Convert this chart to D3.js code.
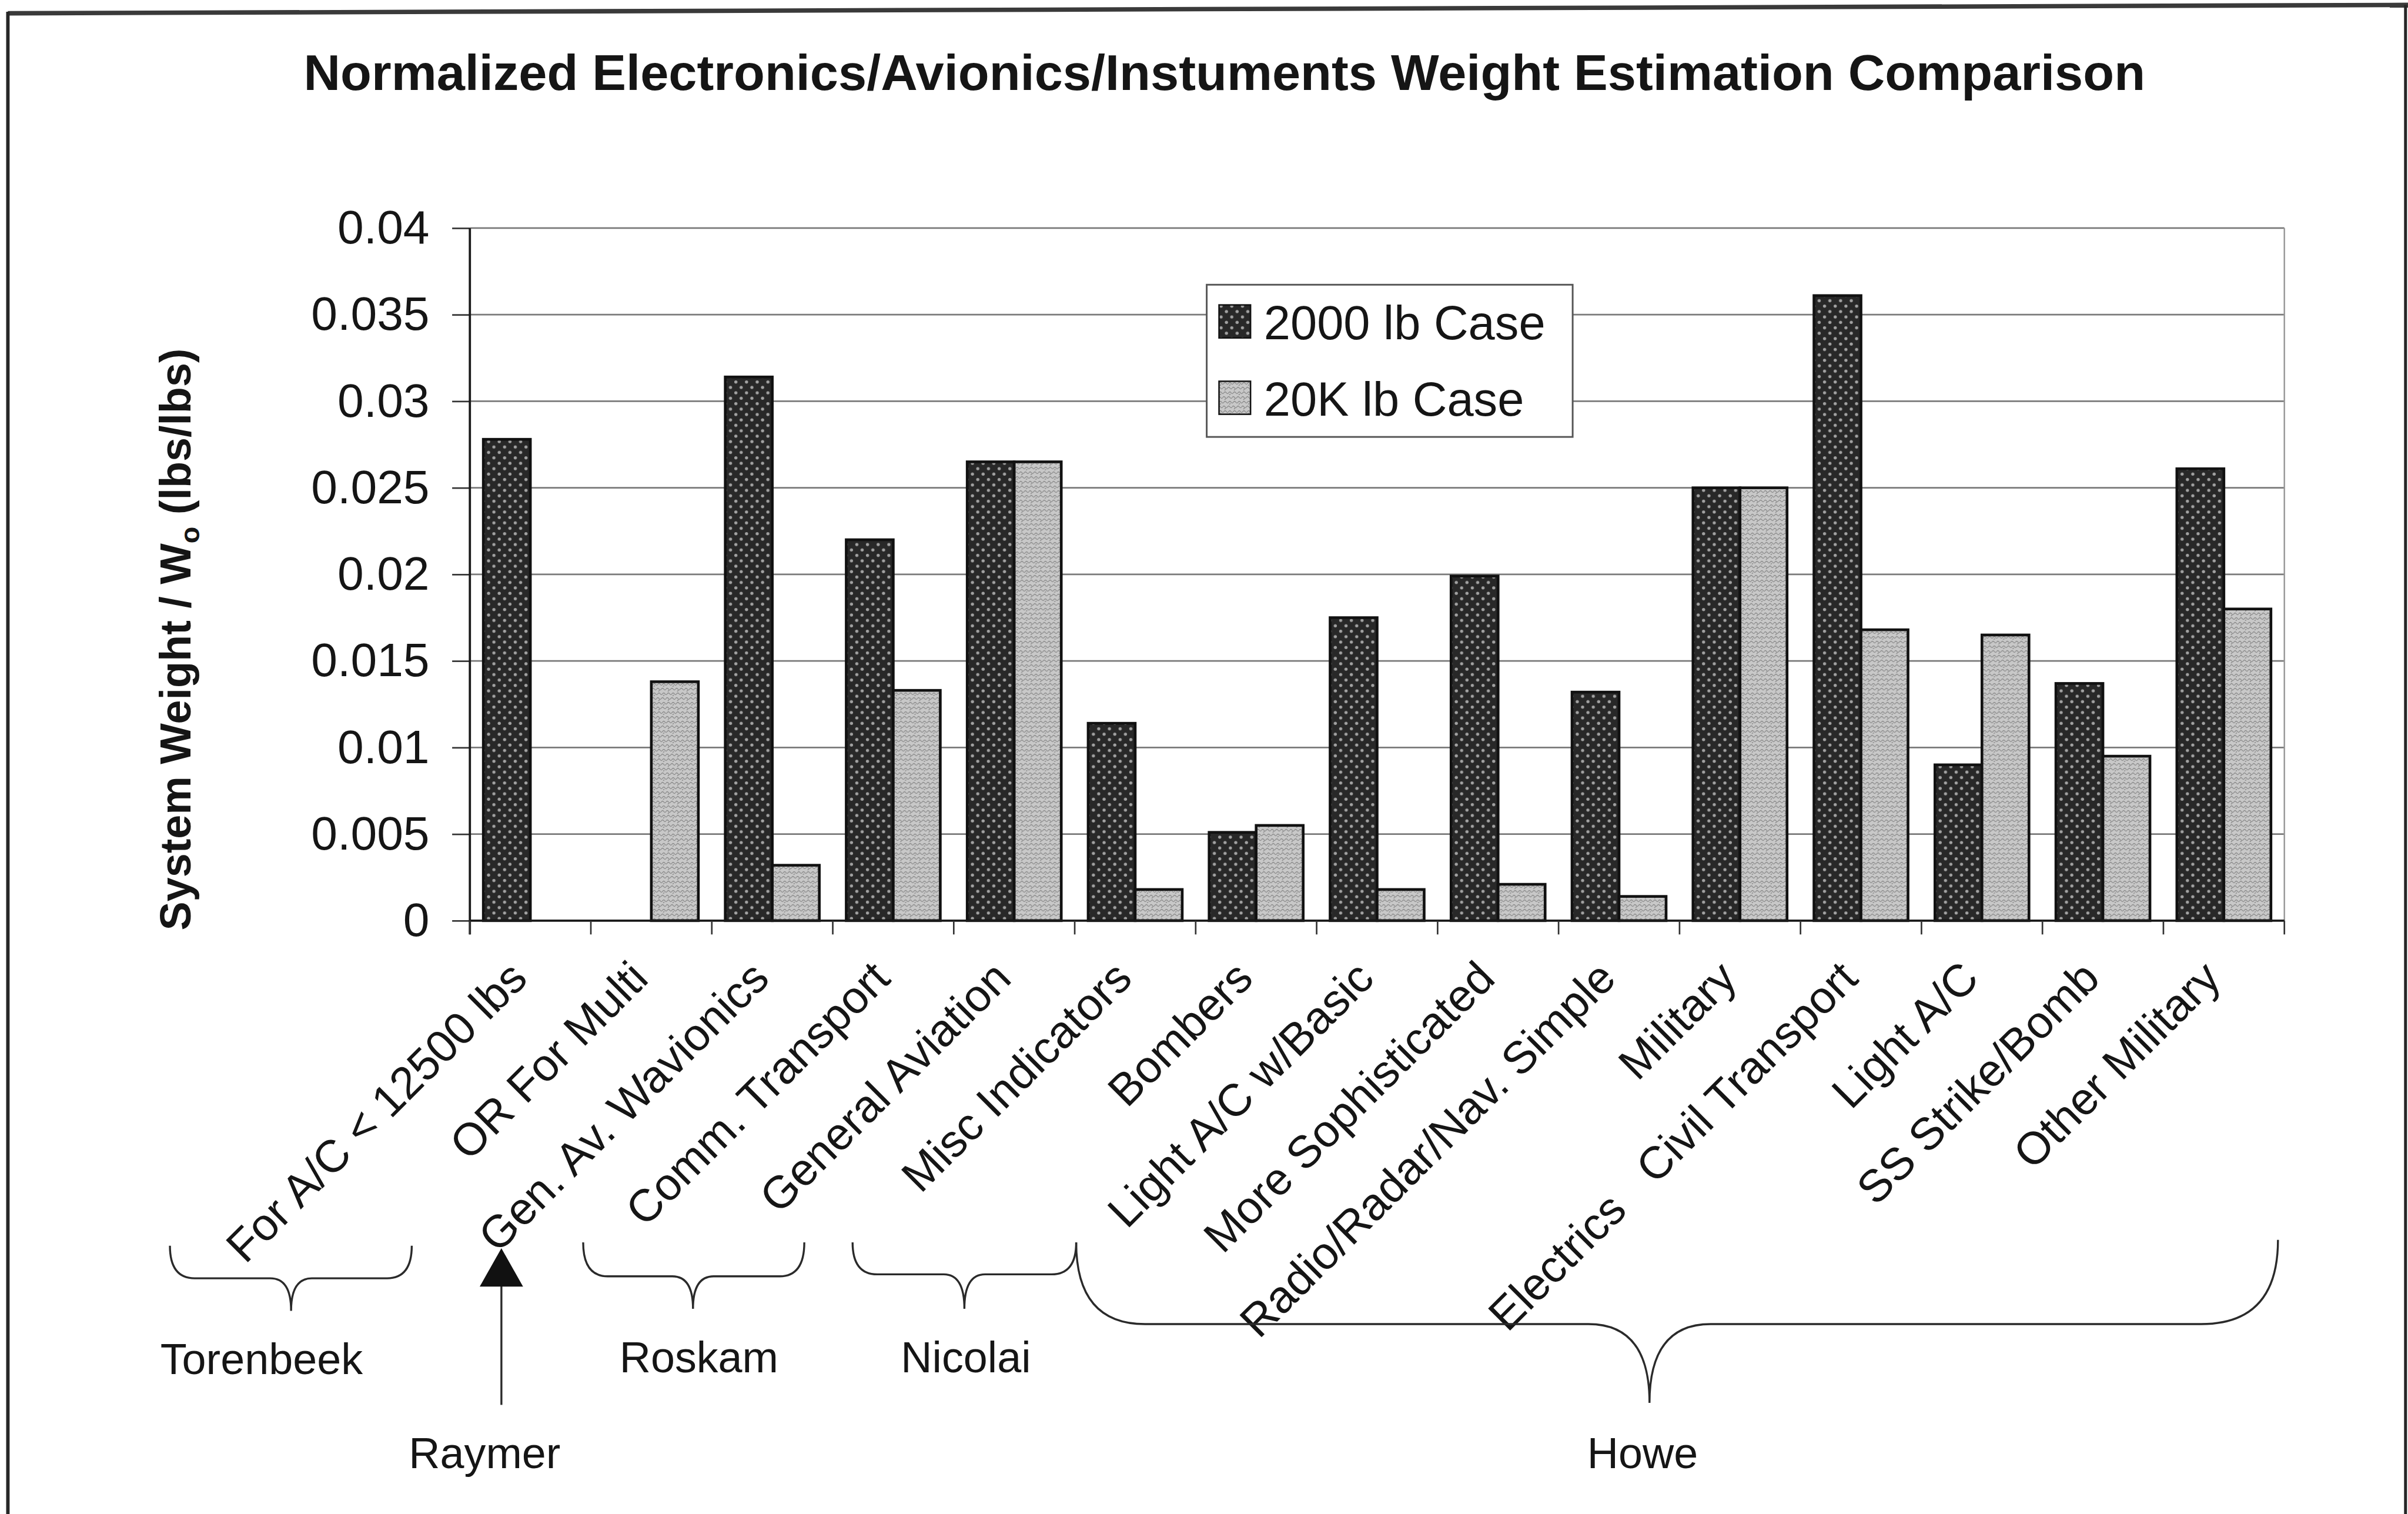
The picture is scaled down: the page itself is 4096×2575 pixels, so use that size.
<!DOCTYPE html>
<html>
<head>
<meta charset="utf-8">
<script src="https://cdn.jsdelivr.net/npm/d3@7"></script>
<style>
  html, body { margin: 0; padding: 0; background: #fff; }
  svg { display: block; }
  text { font-family: "Liberation Sans", Arial, Helvetica, sans-serif; fill: #151515; }
</style>
</head>
<body>
<script>
// ---- data ----
const categories = [
  "For A/C < 12500 lbs",
  "OR For Multi",
  "Gen. Av. Wavionics",
  "Comm. Transport",
  "General Aviation",
  "Misc Indicators",
  "Bombers",
  "Light A/C w/Basic",
  "More Sophisticated",
  "Radio/Radar/Nav. Simple",
  "Military",
  "Electrics   Civil Transport",
  "Light A/C",
  "SS Strike/Bomb",
  "Other Military"
];
const seriesNames = ["2000 lb Case", "20K lb Case"];
const case2000 = [0.0278, 0, 0.0314, 0.0220, 0.0265, 0.0114, 0.0051, 0.0175, 0.0199, 0.0132, 0.0250, 0.0361, 0.0090, 0.0137, 0.0261];
const case20k  = [0, 0.0138, 0.0032, 0.0133, 0.0265, 0.0018, 0.0055, 0.0018, 0.0021, 0.0014, 0.0250, 0.0168, 0.0165, 0.0095, 0.0180];
const yTicks = [0, 0.005, 0.01, 0.015, 0.02, 0.025, 0.03, 0.035, 0.04];
const yTickLabels = ["0", "0.005", "0.01", "0.015", "0.02", "0.025", "0.03", "0.035", "0.04"];
const sourceNames = ["Torenbeek", "Raymer", "Roskam", "Nicolai", "Howe"];

// ---- layout (drawn on a 4889 x 3073 design grid, scaled to the window) ----
const W = 4096, H = 2575;
const S = W / 4889;
const R = v => v * S;

const svg = d3.select("body").append("svg")
  .attr("width", W).attr("height", H)
  .attr("viewBox", `0 0 ${W} ${H}`);

// fill patterns
const defs = svg.append("defs");
const pDots = defs.append("pattern")
  .attr("id", "dots").attr("patternUnits", "userSpaceOnUse")
  .attr("width", R(21.7)).attr("height", R(22));
pDots.append("rect").attr("width", R(21.7)).attr("height", R(22)).attr("fill", "#282828");
pDots.append("circle").attr("cx", R(5.4)).attr("cy", R(5.5)).attr("r", R(3.2)).attr("fill", "#a2a2a2");
pDots.append("circle").attr("cx", R(16.25)).attr("cy", R(16.5)).attr("r", R(3.2)).attr("fill", "#a2a2a2");

const pWave = defs.append("pattern")
  .attr("id", "wave").attr("patternUnits", "userSpaceOnUse")
  .attr("width", 16).attr("height", 16);
pWave.append("rect").attr("width", 16).attr("height", 16).attr("fill", "#c8c8c8");
pWave.append("path")
  .attr("d", "M0,4 q2,-3 4,0 t4,0 t4,0 t4,0 M-2,12 q2,3 4,0 t4,0 t4,0 t4,0 t4,0 M3,8 l2,-2 M11,16 l2,-2")
  .attr("fill", "none").attr("stroke", "#888").attr("stroke-width", 1.3);

// page frame
const frame = svg.append("g").attr("stroke", "#262626").attr("fill", "none");
frame.append("line").attr("x1", R(16)).attr("y1", R(27)).attr("x2", R(4889)).attr("y2", R(10))
  .attr("stroke-width", R(9)).attr("stroke", "#3a3a3a");
frame.append("line").attr("x1", R(16)).attr("y1", R(24)).attr("x2", R(16)).attr("y2", H)
  .attr("stroke-width", R(7));
frame.append("line").attr("x1", R(4884)).attr("y1", R(10)).attr("x2", R(4884)).attr("y2", H)
  .attr("stroke-width", R(6));

// title
svg.append("text")
  .attr("x", R(2486)).attr("y", R(183))
  .attr("text-anchor", "middle")
  .attr("font-size", R(102)).attr("font-weight", "bold")
  .attr("textLength", R(3739)).attr("lengthAdjust", "spacingAndGlyphs")
  .text("Normalized Electronics/Avionics/Instuments Weight Estimation Comparison");

// plot area
const px0 = R(954), px1 = R(4638), pyTop = R(463), pyZero = R(1869);

const x = d3.scaleBand().domain(categories).range([px0, px1]).paddingInner(0).paddingOuter(0);
const xInner = d3.scaleBand().domain(seriesNames).range([0, x.bandwidth()]).paddingInner(0).paddingOuter(0.286);
const y = d3.scaleLinear().domain([0, 0.04]).range([pyZero, pyTop]);

// gridlines
svg.append("g").selectAll("line").data(yTicks.filter(v => v > 0)).join("line")
  .attr("x1", px0).attr("x2", px1)
  .attr("y1", d => y(d)).attr("y2", d => y(d))
  .attr("stroke", "#7a7a7a").attr("stroke-width", R(3.2));
svg.append("line").attr("x1", px1).attr("x2", px1).attr("y1", pyTop).attr("y2", pyZero)
  .attr("stroke", "#9a9a9a").attr("stroke-width", R(3));

// bars
const rows = categories.map((c, i) => ({ c, vals: [case2000[i], case20k[i]] }));
const fills = ["url(#dots)", "url(#wave)"];
svg.append("g").selectAll("g").data(rows).join("g")
  .attr("transform", d => `translate(${x(d.c)},0)`)
  .selectAll("rect")
  .data(d => d.vals.map((v, k) => ({ v, k })).filter(e => e.v > 0))
  .join("rect")
  .attr("x", e => xInner(seriesNames[e.k]))
  .attr("width", xInner.bandwidth())
  .attr("y", e => y(e.v))
  .attr("height", e => y(0) - y(e.v))
  .attr("fill", e => fills[e.k])
  .attr("stroke", "#111").attr("stroke-width", R(5.5));

// y axis
const yAxis = svg.append("g")
  .attr("transform", `translate(${px0},0)`)
  .call(d3.axisLeft(y).tickValues(yTicks).tickFormat((d, i) => yTickLabels[i])
    .tickSize(R(36)).tickPadding(R(46)));
yAxis.select(".domain").remove();
yAxis.selectAll(".tick line").attr("stroke", "#333").attr("stroke-width", R(3.2));
yAxis.selectAll(".tick text").attr("font-size", R(96)).attr("fill", "#151515")
  .attr("font-family", "Liberation Sans, Arial, sans-serif");
svg.append("line").attr("x1", px0).attr("x2", px0).attr("y1", pyTop).attr("y2", pyZero + R(28))
  .attr("stroke", "#1a1a1a").attr("stroke-width", R(4.5));

// x axis with boundary ticks
svg.append("line").attr("x1", px0).attr("x2", px1).attr("y1", pyZero).attr("y2", pyZero)
  .attr("stroke", "#1a1a1a").attr("stroke-width", R(4.5));
const bounds = d3.range(categories.length + 1).map(i => px0 + i * x.step());
svg.append("g").selectAll("line").data(bounds).join("line")
  .attr("x1", d => d).attr("x2", d => d)
  .attr("y1", pyZero).attr("y2", pyZero + R(28))
  .attr("stroke", "#333").attr("stroke-width", R(3.2));

// rotated category labels
svg.append("g").selectAll("text").data(categories).join("text")
  .attr("transform", d => `translate(${x(d) + x.bandwidth() / 2 - R(2)},${pyZero + R(122)}) rotate(-45)`)
  .attr("text-anchor", "end")
  .attr("font-size", R(92))
  .style("white-space", "pre")
  .text(d => d);

// y axis title
const yt = svg.append("text")
  .attr("transform", `translate(${R(387)},${R(1298)}) rotate(-90)`)
  .attr("text-anchor", "middle")
  .attr("font-size", R(88)).attr("font-weight", "bold");
yt.append("tspan").text("System Weight / W");
yt.append("tspan").attr("font-size", R(56)).attr("dy", R(18)).text("o");
yt.append("tspan").attr("dy", R(-18)).text(" (lbs/lbs)");

// legend
const lg = svg.append("g");
lg.append("rect").attr("x", R(2450)).attr("y", R(578)).attr("width", R(743)).attr("height", R(309))
  .attr("fill", "#fff").attr("stroke", "#555").attr("stroke-width", R(3.5));
seriesNames.forEach((name, k) => {
  const yy = R(619 + k * 155);
  lg.append("rect").attr("x", R(2475)).attr("y", yy).attr("width", R(64)).attr("height", R(67))
    .attr("fill", fills[k]).attr("stroke", "#111").attr("stroke-width", R(3));
  lg.append("text").attr("x", R(2566)).attr("y", yy + R(70))
    .attr("font-size", R(97)).text(name);
});

// source annotations: braces, arrow and names
function bracePath(x0, x1, yEnd0, yEnd1, yBar, tipX, yTip, r0, rt, r1) {
  return `M${R(x0)},${R(yEnd0)} Q${R(x0)},${R(yBar)} ${R(x0 + r0)},${R(yBar)}` +
    ` L${R(tipX - rt)},${R(yBar)} Q${R(tipX)},${R(yBar)} ${R(tipX)},${R(yTip)}` +
    ` Q${R(tipX)},${R(yBar)} ${R(tipX + rt)},${R(yBar)}` +
    ` L${R(x1 - r1)},${R(yBar)} Q${R(x1)},${R(yBar)} ${R(x1)},${R(yEnd1)}`;
}
const ann = svg.append("g").attr("fill", "none").attr("stroke", "#2a2a2a").attr("stroke-width", R(4));
ann.append("path").attr("d", bracePath(345, 836, 2529, 2529, 2595, 591, 2661, 50, 42, 50));
ann.append("path").attr("d", bracePath(1184, 1633, 2522, 2522, 2591, 1407, 2657, 50, 42, 50));
ann.append("path").attr("d", bracePath(1731, 2185, 2522, 2522, 2587, 1958, 2657, 50, 42, 50));
ann.append("path").attr("d", bracePath(2185, 4625, 2522, 2517, 2688, 3349, 2848, 140, 124, 156));
// arrow
ann.append("line").attr("x1", R(1018)).attr("x2", R(1018)).attr("y1", R(2852)).attr("y2", R(2600));
svg.append("path")
  .attr("d", `M${R(1018)},${R(2534)} L${R(1062)},${R(2612)} L${R(974)},${R(2612)} Z`)
  .attr("fill", "#111");

const namePos = [[531, 2790], [984, 2981], [1419, 2786], [1961, 2786], [3335, 2981]];
svg.append("g").selectAll("text").data(sourceNames).join("text")
  .attr("x", (d, i) => R(namePos[i][0])).attr("y", (d, i) => R(namePos[i][1]))
  .attr("text-anchor", "middle").attr("font-size", R(88))
  .text(d => d);
</script>
</body>
</html>
